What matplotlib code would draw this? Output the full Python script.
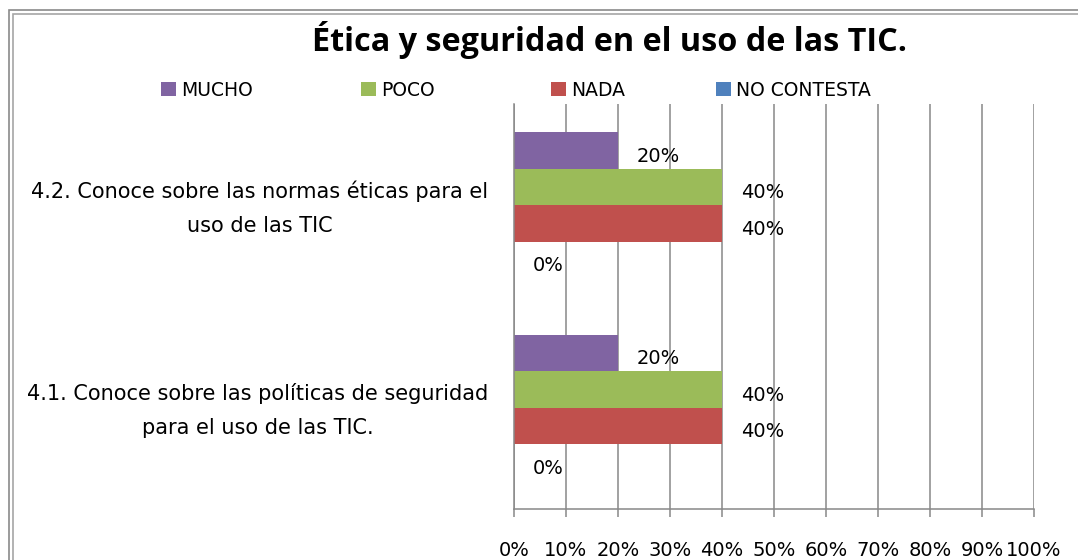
import matplotlib
matplotlib.use("Agg")
import matplotlib.pyplot as plt
from matplotlib.patches import Rectangle
import numpy as np

plt.rcParams['font.family'] = ['DejaVu Sans']

title = "Ética y seguridad en el uso de las TIC."
categories = ["4.1. Conoce sobre las políticas de seguridad\npara el uso de las TIC.",
              "4.2. Conoce sobre las normas éticas para el\nuso de las TIC"]
series_names = ["MUCHO", "POCO", "NADA", "NO CONTESTA"]
series_colors = ["#8064A2", "#9BBB59", "#C0504D", "#4F81BD"]
# values in percent, per category (4.1, 4.2)
mucho = [20, 20]
poco = [40, 40]
nada = [40, 40]
no_contesta = [0, 0]
series_values = [mucho, poco, nada, no_contesta]
xticks = list(range(0, 101, 10))
xtick_labels = [f"{t}%" for t in xticks]

W, H = 1078, 560
fig = plt.figure(figsize=(W / 100, H / 100), dpi=100)
fig.patch.set_facecolor("white")

def fx(px):
    return px / W

def fy(py):
    return 1 - py / H

# double frame
for (x0, y0, col, lw) in [(8.8, 9.5, "#8a8a8a", 1.2), (12.7, 13.5, "#a6a6a6", 1.2)]:
    fig.add_artist(Rectangle((fx(x0), -0.1), 1.2, fy(y0) + 0.1, transform=fig.transFigure,
                             fill=False, edgecolor=col, linewidth=lw))

left, right, top, bottom = 514, 1034, 104, 509.3
ax = fig.add_axes([fx(left), fy(bottom), fx(right) - fx(left), fy(top) - fy(bottom)])

h = 0.18
offsets = [1.5 * h, 0.5 * h, -0.5 * h, -1.5 * h]
y = np.arange(len(categories))
ax.set_axisbelow(True)
for vals, col, off in zip(series_values, series_colors, offsets):
    ax.barh(y + off, vals, height=h, color=col, edgecolor="none", zorder=2)
    for yi, v in zip(y, vals):
        ax.annotate(f"{v}%", xy=(v, yi + off), xytext=(13.5, -4), textcoords="offset points",
                    ha="left", va="center", fontsize=14, color="#000000", zorder=3)

ax.set_xlim(0, 100)
ax.set_ylim(-0.5, 1.5)
ax.set_xticks(xticks)
ax.set_xticklabels(xtick_labels, fontsize=14)
ax.set_yticks(y)
ax.set_yticklabels([])
for yi, cat in zip(y, categories):
    ax.annotate(cat, xy=(0, yi), xycoords=("axes fraction", "data"),
                xytext=(-18.5, -2), textcoords="offset points",
                ha="right", va="center", multialignment="center",
                fontsize=15, linespacing=1.85, annotation_clip=False)
ax.tick_params(axis="y", length=0, pad=0)
ax.tick_params(axis="x", length=5.5, width=1.1, color="#888888", pad=17)
ax.grid(axis="x", color="#888888", linewidth=1.1, zorder=0)
for s in ["top", "right"]:
    ax.spines[s].set_visible(False)
for s in ["left", "bottom"]:
    ax.spines[s].set_color("#888888")
    ax.spines[s].set_linewidth(1.1)

# title
fig.text(fx(610), fy(51), title, ha="center", va="baseline", fontsize=23.3,
         fontweight="bold", family=["Open Sans", "DejaVu Sans"])

# legend
leg_x = [161, 361, 551, 716]
for name, col, lx in zip(series_names, series_colors, leg_x):
    fig.add_artist(Rectangle((fx(lx), fy(95.5)), fx(15), fy(82) - fy(95.5),
                             transform=fig.transFigure, facecolor=col, edgecolor="none"))
    fig.text(fx(lx + 20), fy(96.5), name, ha="left", va="baseline", fontsize=13.5)

fig.savefig("out.png", dpi=100)
